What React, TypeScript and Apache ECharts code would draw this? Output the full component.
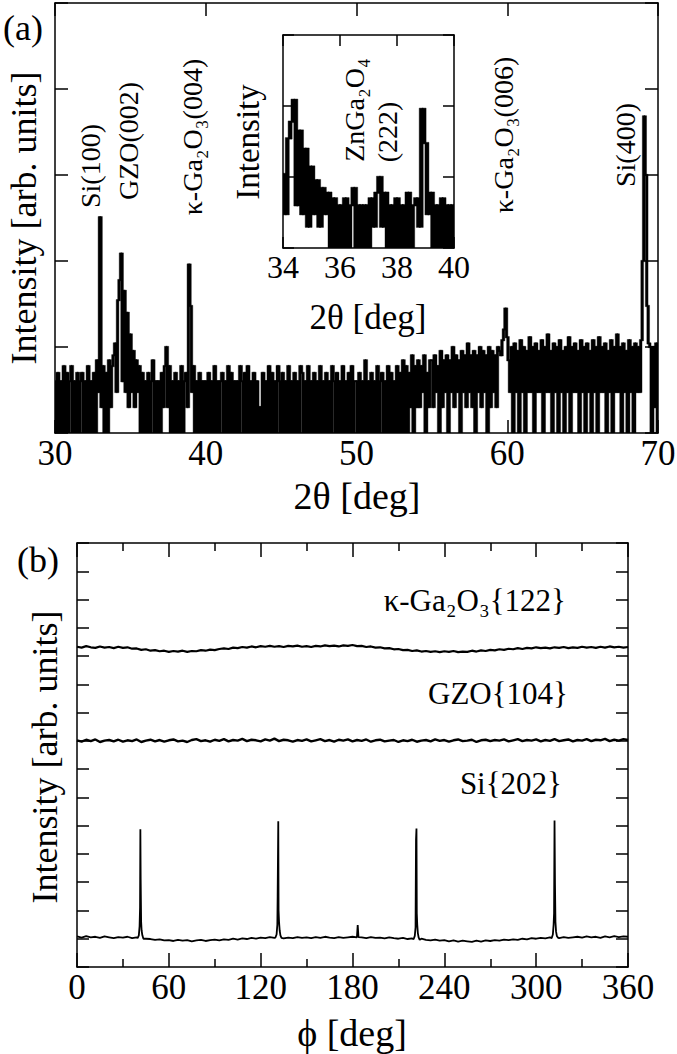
import React, { useEffect, useRef } from "react";
import * as echarts from "echarts";

// ---------- Panel (a): XRD 2θ-ω scan, counts every 0.1° from 30.0° ----------
const twoThetaStart = 30;
const twoThetaStep = 0.1;
const counts30to35 = [
  4, 1, 5, 1, 4, 1, 6, 1, 5, 1,
  4, 6, 1, 4, 1, 5, 1, 4, 5, 1,
  4, 1, 6, 1, 4, 1, 5, 1, 7, 3,
  323, 2, 6, 1, 5, 1, 7, 2, 6, 8,
  11, 3, 35, 60, 122, 4, 45, 3, 25, 2,
];
const counts35to40 = [
  14, 3, 9, 2, 7, 3, 6, 1, 5, 1,
  4, 1, 5, 1, 4, 7, 1, 4, 1, 4,
  1, 5, 2, 6, 10, 2, 6, 1, 4, 1,
  5, 1, 4, 1, 6, 1, 4, 5, 2, 91,
  30, 3, 6, 1, 4, 1, 5, 1, 4, 1,
];
const counts40to45 = [
  4, 1, 5, 1, 4, 1, 6, 1, 4, 1,
  4, 5, 1, 4, 1, 6, 1, 5, 1, 4,
  1, 4, 1, 6, 4, 1, 5, 1, 6, 1,
  4, 1, 5, 1, 4, 1, 2, 1, 5, 1,
  4, 1, 6, 1, 5, 1, 4, 1, 6, 4,
];
const counts45to50 = [
  1, 5, 1, 4, 1, 6, 1, 4, 1, 5,
  1, 4, 1, 6, 5, 1, 4, 1, 6, 1,
  4, 1, 5, 1, 4, 1, 6, 1, 4, 1,
  5, 1, 4, 1, 6, 4, 1, 5, 1, 4,
  1, 6, 1, 4, 1, 5, 1, 6, 1, 4,
];
const counts50to55 = [
  4, 1, 5, 1, 4, 1, 7, 1, 4, 1,
  5, 1, 4, 1, 6, 1, 4, 5, 1, 4,
  1, 6, 1, 5, 1, 4, 1, 6, 1, 5,
  1, 7, 1, 6, 1, 5, 2, 8, 1, 6,
  2, 7, 2, 6, 3, 8, 1, 5, 2, 7,
];
const counts55to60 = [
  7, 2, 8, 3, 6, 1, 9, 2, 7, 3,
  8, 1, 7, 3, 10, 2, 8, 3, 7, 1,
  9, 3, 8, 2, 11, 3, 8, 2, 9, 1,
  8, 3, 10, 2, 9, 3, 8, 1, 10, 2,
  9, 3, 8, 2, 10, 9, 8, 12, 16, 28,
];
const counts60to65 = [
  13, 7, 3, 10, 1, 11, 3, 9, 1, 12,
  3, 10, 1, 9, 3, 13, 3, 10, 1, 11,
  3, 9, 3, 12, 1, 10, 3, 14, 3, 9,
  1, 11, 3, 10, 1, 12, 3, 9, 1, 10,
  3, 13, 1, 10, 3, 11, 3, 9, 1, 12,
];
const counts65to70 = [
  3, 10, 1, 11, 3, 9, 1, 12, 3, 10,
  1, 13, 3, 10, 3, 11, 1, 9, 3, 12,
  1, 10, 3, 14, 3, 10, 1, 11, 3, 9,
  1, 12, 3, 10, 1, 11, 3, 10, 3, 12,
  100, 4800, 1000, 30, 11, 10, 1, 10, 2, 11,
  1,
];

const mainTicks2Theta = [30, 40, 50, 60, 70];
const insetTicks2Theta = [34, 36, 38, 40];

// ---------- Panel (b): φ scans, every 3° (arb. units, axis 0–15) ----------
const phiStep = 3;
const kappaGa2O3_122 = [
  11.33, 11.30, 11.35, 11.31, 11.29, 11.34, 11.30, 11.32, 11.28, 11.33,
  11.29, 11.31, 11.26, 11.27, 11.22, 11.24, 11.19, 11.21, 11.17, 11.19,
  11.15, 11.18, 11.16, 11.19, 11.15, 11.18, 11.17, 11.21, 11.19, 11.23,
  11.21, 11.25, 11.27, 11.25, 11.30, 11.28, 11.32, 11.30, 11.34, 11.31,
  11.35, 11.33, 11.36, 11.33, 11.35, 11.32, 11.36, 11.34, 11.37, 11.33,
  11.35, 11.32, 11.36, 11.34, 11.38, 11.35, 11.37, 11.34, 11.38, 11.36,
  11.39, 11.35, 11.36, 11.32, 11.34, 11.30, 11.31, 11.27, 11.28, 11.24,
  11.25, 11.21, 11.22, 11.18, 11.20, 11.16, 11.18, 11.15, 11.17, 11.14,
  11.17, 11.15, 11.18, 11.14, 11.16, 11.15, 11.19, 11.16, 11.20, 11.18,
  11.22, 11.20, 11.24, 11.22, 11.26, 11.24, 11.28, 11.25, 11.29, 11.27,
  11.31, 11.28, 11.30, 11.27, 11.31, 11.29, 11.32, 11.28, 11.31, 11.29,
  11.33, 11.30, 11.32, 11.29, 11.33, 11.30, 11.34, 11.31, 11.33, 11.30,
  11.32,
];
const gzo_104 = [
  8.02, 7.97, 8.04, 7.99, 8.05, 7.96, 8.01, 8.03, 7.98, 8.04,
  7.97, 8.02, 7.99, 8.05, 7.96, 8.01, 8.04, 7.98, 8.03, 7.97,
  8.02, 8.05, 7.98, 8.01, 7.96, 8.03, 8.06, 7.99, 8.02, 7.97,
  8.04, 8.00, 8.06, 7.98, 8.03, 8.01, 8.07, 7.99, 8.04, 8.02,
  7.98, 8.05, 8.01, 8.08, 7.99, 8.04, 8.02, 7.97, 8.03, 8.00,
  8.05, 7.98, 8.02, 8.06, 7.99, 8.03, 7.97, 8.04, 8.01, 8.05,
  7.98, 8.03, 8.00, 8.05, 7.97, 8.02, 8.04, 7.98, 8.01, 8.03,
  7.96, 8.02, 7.99, 8.04, 7.97, 8.01, 8.03, 7.98, 8.05, 8.00,
  8.03, 7.97, 8.02, 8.05, 7.99, 8.01, 8.04, 7.96, 8.02, 8.04,
  7.99, 8.03, 8.01, 8.05, 7.98, 8.02, 8.06, 7.99, 8.03, 8.01,
  8.05, 7.98, 8.03, 8.00, 8.06, 7.99, 8.02, 8.05, 7.98, 8.03,
  8.01, 8.06, 7.99, 8.04, 8.02, 8.07, 7.99, 8.04, 8.01, 8.06,
  8.03,
];
const si_202_base = [
  1.08, 1.04, 1.09, 1.05, 1.07, 1.03, 1.08, 1.05, 1.02, 1.06,
  1.04, 1.07, 1.02, 1.05, 1.03, 1.00, 0.99, 0.96, 0.98, 0.94,
  0.95, 0.92, 0.96, 0.93, 0.95, 0.91, 0.94, 0.96, 0.92, 0.95,
  0.97, 0.94, 0.98, 0.96, 1.00, 0.97, 1.01, 0.99, 1.03, 1.00,
  1.04, 1.02, 1.06, 1.03, 1.05, 1.01, 1.04, 1.02, 1.06, 1.03,
  1.05, 1.02, 1.06, 1.03, 1.07, 1.04, 1.02, 1.06, 1.03, 1.05,
  1.07, 1.03, 1.05, 1.02, 1.06, 1.03, 1.04, 1.01, 1.05, 1.02,
  1.00, 1.03, 0.99, 1.01, 0.97, 1.00, 0.96, 0.94, 0.97, 0.93,
  0.95, 0.91, 0.94, 0.90, 0.93, 0.91, 0.89, 0.93, 0.90, 0.94,
  0.92, 0.95, 0.93, 0.97, 0.95, 0.98, 0.96, 1.00, 0.98, 1.02,
  1.00, 1.03, 1.01, 1.05, 1.04, 1.02, 1.06, 1.03, 1.05, 1.07,
  1.04, 1.08, 1.05, 1.07, 1.03, 1.08, 1.05, 1.09, 1.06, 1.08,
  1.07,
];
const siPeak1Phi = [39.6, 40.4, 40.9, 41.2, 41.4, 41.6, 41.9, 42.2, 42.7, 43.4];
const siPeak1Val = [1.02, 1.12, 1.45, 2.1, 4.87, 3.1, 1.6, 1.3, 1.12, 1.0];
const siPeak2Phi = [129.6, 130.4, 130.9, 131.1, 131.5, 131.7, 132.0, 132.4, 132.9, 133.6];
const siPeak2Val = [1.04, 1.15, 1.5, 2.5, 5.16, 2.0, 1.6, 1.3, 1.12, 1.03];
const siPeak3Phi = [219.9, 220.7, 221.2, 221.5, 221.8, 222.0, 222.3, 222.7, 223.2, 223.9];
const siPeak3Val = [0.98, 1.1, 1.4, 4.5, 4.9, 1.9, 1.5, 1.2, 1.05, 0.96];
const siPeak4Phi = [310.1, 310.9, 311.4, 311.7, 312.0, 312.3, 312.6, 313.0, 313.5, 314.2];
const siPeak4Val = [1.02, 1.15, 1.5, 1.9, 5.18, 2.9, 1.6, 1.25, 1.1, 1.04];
const siSmallPhi = [182.9, 183.4, 183.9];
const siSmallVal = [1.05, 1.48, 1.06];

const phiTicks = [0, 60, 120, 180, 240, 300, 360];

const FONT = "Liberation Serif";

function buildXrd(): number[][] {
  const all = [
    ...counts30to35, ...counts35to40, ...counts40to45, ...counts45to50,
    ...counts50to55, ...counts55to60, ...counts60to65, ...counts65to70,
  ];
  return all.map((c, i) => [Math.round((twoThetaStart + i * twoThetaStep) * 10) / 10, c]);
}

// each consecutive pair of points -> [x0, x1, low, high] (what the densely drawn trace covers)
function toSegments(pts: number[][]): number[][] {
  const out: number[][] = [];
  for (let i = 0; i < pts.length - 1; i++) {
    const a = pts[i], b = pts[i + 1];
    out.push([a[0], b[0], Math.min(a[1], b[1]), Math.max(a[1], b[1])]);
  }
  return out;
}

function buildPhi(vals: number[]): number[][] {
  return vals.map((v, i) => [i * phiStep, v]);
}

function buildSi(): number[][] {
  const peaks: [number[], number[]][] = [
    [siPeak1Phi, siPeak1Val], [siPeak2Phi, siPeak2Val], [siPeak3Phi, siPeak3Val],
    [siPeak4Phi, siPeak4Val], [siSmallPhi, siSmallVal],
  ];
  const data = buildPhi(si_202_base).filter(
    ([p]) => !peaks.some(([ph]) => p >= ph[0] && p <= ph[ph.length - 1])
  );
  peaks.forEach(([ph, val]) => ph.forEach((p, j) => data.push([p, val[j]])));
  data.sort((a, b) => a[0] - b[0]);
  return data;
}

const black = "#000";
const lineStyle = { color: black, width: 1.5 };

function frameAxes(gridIndex: number, pos: string, base: any, showLabel: boolean, tickLen: number, labelSize = 35, minor?: any) {
  return {
    gridIndex,
    position: pos,
    ...base,
    axisLine: { show: true, onZero: false, lineStyle },
    axisTick: { show: true, inside: true, length: tickLen, lineStyle },
    minorTick: minor ? { show: true, splitNumber: minor.split, length: minor.len, lineStyle } : { show: false },
    axisLabel: showLabel
      ? { show: true, color: black, fontFamily: FONT, fontSize: labelSize, margin: 3 }
      : { show: false },
    splitLine: { show: false },
    minorSplitLine: { show: false },
  };
}

function traceSeries(name: string, xi: number, yi: number, pts: number[][], thick: number, overlap: number) {
  return {
    name,
    type: "custom",
    xAxisIndex: xi,
    yAxisIndex: yi,
    data: toSegments(pts),
    encode: { x: [0, 1], y: [2, 3] },
    clip: true,
    z: 3,
    renderItem: (params: any, api: any) => {
      const pTop = api.coord([api.value(0), api.value(3)]);
      const pBot = api.coord([api.value(1), api.value(2)]);
      const h = thick / 2;
      return {
        type: "rect",
        shape: {
          x: pTop[0] - overlap / 2,
          y: pTop[1] - h,
          width: pBot[0] - pTop[0] + overlap,
          height: pBot[1] - pTop[1] + 2 * h,
        },
        style: { fill: black, stroke: black, lineWidth: 0.4 },
      };
    },
  };
}

function rotText(text: string, x: number, y: number, size: number) {
  return {
    type: "text",
    x,
    y,
    rotation: Math.PI / 2,
    style: {
      text,
      fontFamily: FONT,
      fontSize: size,
      fill: black,
      align: "center",
      verticalAlign: "middle",
      textAlign: "center",
      textVerticalAlign: "middle",
    },
  };
}

function hText(text: string, x: number, y: number, size: number, align = "center") {
  return {
    type: "text",
    x,
    y,
    style: {
      text,
      fontFamily: FONT,
      fontSize: size,
      fill: black,
      align,
      verticalAlign: "middle",
      textAlign: align,
      textVerticalAlign: "middle",
    },
  };
}

export default function App() {
  const ref = useRef<HTMLDivElement>(null);

  useEffect(() => {
    if (!ref.current) return;
    const chart = echarts.init(ref.current, undefined, { renderer: "svg" });
    const xrd = buildXrd();
    const xrdInset = xrd.filter(([x]) => x >= 33.9 && x <= 40.1);

    const mainX = { type: "value", min: mainTicks2Theta[0], max: mainTicks2Theta[mainTicks2Theta.length - 1], interval: 10 };
    const mainY = { type: "log", logBase: 10, min: 1, max: 100000 };
    const insetX = { type: "value", min: insetTicks2Theta[0], max: insetTicks2Theta[insetTicks2Theta.length - 1], interval: 2 };
    const insetY = { type: "log", logBase: 10, min: 1, max: 1000 };
    const phiX = { type: "value", min: phiTicks[0], max: phiTicks[phiTicks.length - 1], interval: 60 };
    const phiY = { type: "value", min: 0, max: 15, interval: 1 };

    const option: any = {
      animation: false,
      backgroundColor: "#fff",
      textStyle: { fontFamily: FONT },
      grid: [
        { left: 55, top: 3, width: 603, height: 430, containLabel: false, outerBoundsMode: "none" },
        { left: 283, top: 35, width: 171, height: 213, containLabel: false, outerBoundsMode: "none", show: true, backgroundColor: "#fff", borderWidth: 0 },
        { left: 77, top: 543, width: 551, height: 424, containLabel: false, outerBoundsMode: "none" },
      ],
      xAxis: [
        frameAxes(0, "bottom", mainX, true, 13, 35),
        frameAxes(0, "top", mainX, false, 13),
        frameAxes(1, "bottom", insetX, true, 11, 32),
        frameAxes(1, "top", insetX, false, 11),
        frameAxes(2, "bottom", phiX, true, 14, 35, { split: 2, len: 8 }),
        frameAxes(2, "top", phiX, false, 14, 35, { split: 2, len: 8 }),
      ],
      yAxis: [
        frameAxes(0, "left", mainY, false, 13),
        frameAxes(0, "right", mainY, false, 13),
        frameAxes(1, "left", insetY, false, 11),
        frameAxes(1, "right", insetY, false, 11),
        frameAxes(2, "left", phiY, false, 12),
        frameAxes(2, "right", phiY, false, 12),
      ],
      series: [
        traceSeries("2θ scan", 0, 0, xrd, 1.4, 1.2),
        traceSeries("2θ scan inset", 2, 2, xrdInset, 1.6, 1.2),
        {
          name: "κ-Ga2O3{122}",
          type: "line",
          xAxisIndex: 4,
          yAxisIndex: 4,
          data: buildPhi(kappaGa2O3_122),
          showSymbol: false,
          symbol: "none",
          lineStyle: { color: black, width: 2.2 },
        },
        {
          name: "GZO{104}",
          type: "line",
          xAxisIndex: 4,
          yAxisIndex: 4,
          data: buildPhi(gzo_104),
          showSymbol: false,
          symbol: "none",
          lineStyle: { color: black, width: 2.4 },
        },
        {
          name: "Si{202}",
          type: "line",
          xAxisIndex: 4,
          yAxisIndex: 4,
          data: buildSi(),
          showSymbol: false,
          symbol: "none",
          lineStyle: { color: black, width: 1.8 },
        },
      ],
      graphic: {
        elements: [
          hText("(a)", 23, 28, 36),
          rotText("Intensity [arb. units]", 24, 218, 36),
          hText("2θ [deg]", 357, 496, 38),
          rotText("Si(100)", 90, 166, 28),
          rotText("GZO(002)", 128, 141, 28),
          rotText("κ-Ga₂O₃(004)", 192, 137, 28),
          rotText("ZnGa₂O₄", 354, 110, 28),
          rotText("(222)", 387, 132, 28),
          rotText("κ-Ga₂O₃(006)", 503, 135, 28),
          rotText("Si(400)", 625, 145, 28),
          rotText("Intensity", 248, 142, 33),
          hText("2θ [deg]", 368, 317, 35),
          hText("(b)", 38, 560, 36),
          rotText("Intensity [arb. units]", 45, 757, 36),
          hText("ϕ [deg]", 352, 1033, 38),
          hText("κ-Ga₂O₃{122}", 566, 600, 31, "right"),
          hText("GZO{104}", 568, 693, 31, "right"),
          hText("Si{202}", 562, 783, 31, "right"),
        ],
      },
    };
    chart.setOption(option);
    return () => chart.dispose();
  }, []);

  return (
    <div
      ref={ref}
      style={{ position: "absolute", left: 0, top: 0, width: 677, height: 1054, background: "#fff" }}
    />
  );
}
